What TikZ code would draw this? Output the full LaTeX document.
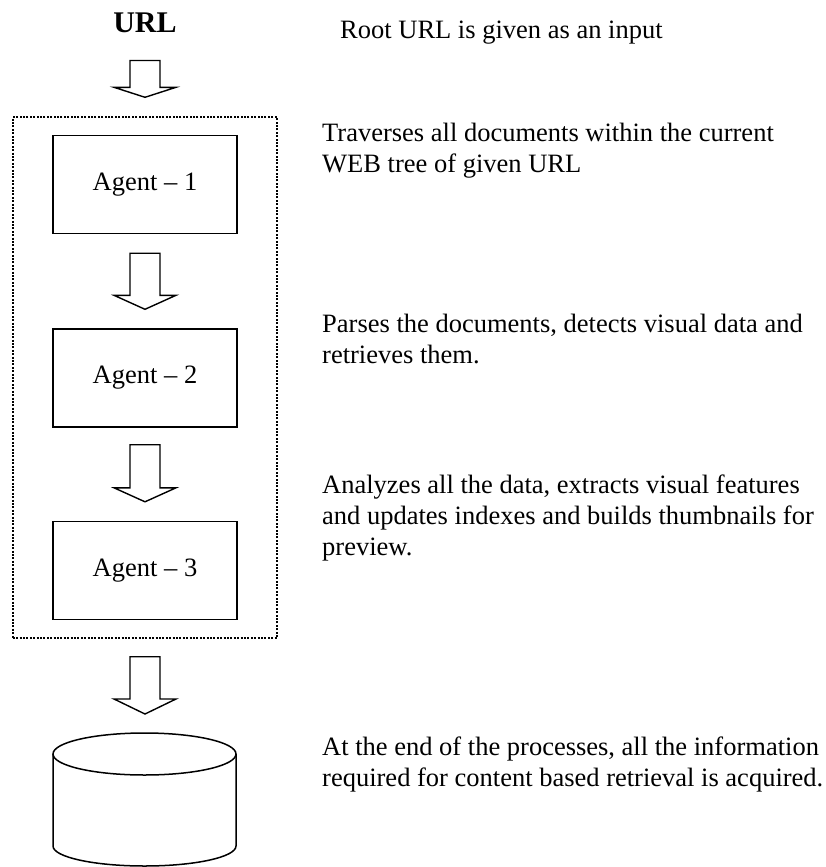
\documentclass[tikz,border=0pt]{standalone}
\usepackage{fontspec}
\setmainfont{Liberation Serif}
\usetikzlibrary{calc,fit}

% block arrow: from node anchor #1 to node anchor #2, gap below #1 = #3, head length = #4
\newcommand{\flowarrow}[4]{%
  \draw[line width=1.4pt,line join=miter] let \p1=([yshift=-#3]#1), \p2=([yshift=19pt]#2) in
    (\x1-15pt,\y1) -- (\x1+15pt,\y1) -- (\x1+15pt,\y2+#4) -- (\x1+31pt,\y2+#4)
    -- (\x1,\y2) -- (\x1-31pt,\y2+#4) -- (\x1-15pt,\y2+#4) -- cycle;}

\begin{document}
\begin{tikzpicture}[x=1pt,y=-1pt,
    font=\fontsize{26.5pt}{31pt}\selectfont,
    agent/.style={draw,line width=1.4pt,minimum width=184pt,minimum height=98pt,inner sep=0pt},
    group/.style={draw,line width=2pt,dash pattern=on 2pt off 1.4pt,inner xsep=39.5pt,inner ysep=17.5pt},
    desc/.style={anchor=base west,align=left,inner sep=0pt}]
  \useasboundingbox (0,0) rectangle (826,867);

  \node[font=\fontsize{30pt}{36pt}\selectfont\bfseries,anchor=base,inner sep=0pt] (url) at (145,33) {URL};
  \node[agent] (agent1) at (145,184.5) {Agent -- 1};
  \node[agent] (agent2) at (145,378) {Agent -- 2};
  \node[agent] (agent3) at (145,570.5) {Agent -- 3};
  \node[group,fit=(agent1)(agent3)] (crawler) {};

  % database cylinder
  \coordinate (db) at (144.5,754);
  \draw[line width=1.5pt] (db) ellipse[x radius=91.5pt,y radius=21pt];
  \draw[line width=1.5pt] ($(db)+(-91.5,0)$) -- ++(0,92)
    arc[start angle=180,end angle=360,x radius=91.5pt,y radius=20pt] -- ($(db)+(91.5,0)$);
  \coordinate (dbtop) at ($(db)+(0,-21)$);

  % descriptions
  \node[desc] (root) at (340,38) {Root URL is given as an input};
  \node[desc] (step1) at (322,172) {Traverses all documents within the current\\WEB tree of given URL};
  \node[desc] (step2) at (322,363) {Parses the documents, detects visual data and\\retrieves them.};
  \node[desc] (step3) at (322,555) {Analyzes all the data, extracts visual features\\and updates indexes and builds thumbnails for\\preview.};
  \node[desc] (step4) at (322,786) {At the end of the processes, all the information\\required for content based retrieval is acquired.};

  \flowarrow{url.south}{crawler.north}{27pt}{10pt}
  \flowarrow{agent1.south}{agent2.north}{19pt}{14pt}
  \flowarrow{agent2.south}{agent3.north}{17pt}{14pt}
  \flowarrow{crawler.south}{dbtop}{18pt}{15pt}
\end{tikzpicture}
\end{document}
